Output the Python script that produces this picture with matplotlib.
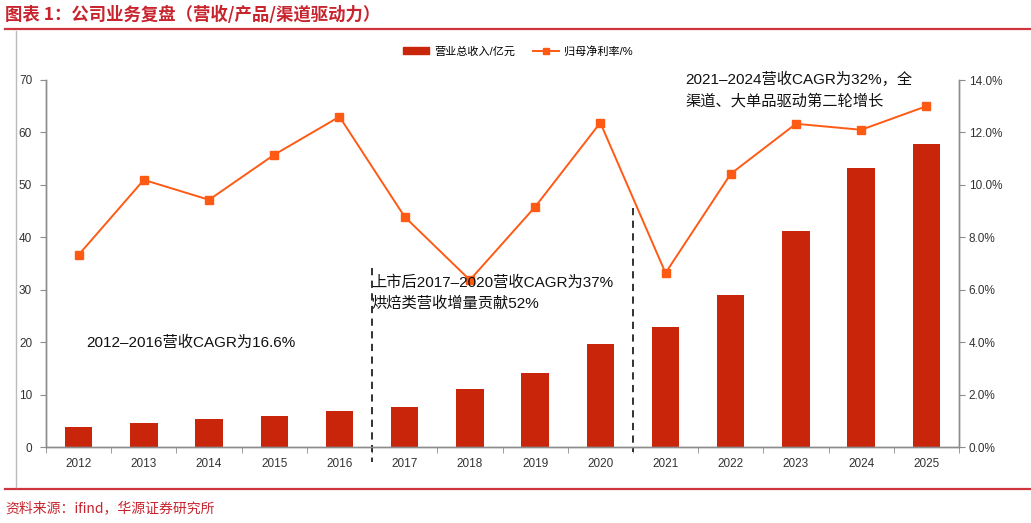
import numpy as np
import matplotlib
matplotlib.use('Agg')
import matplotlib.pyplot as plt
from matplotlib.patches import Patch
from matplotlib.lines import Line2D

# Datos del gráfico
years = ['2012', '2013', '2014', '2015', '2016', '2017', '2018',
         '2019', '2020', '2021', '2022', '2023', '2024', '2025']
revenue = [3.8, 4.6, 5.3, 5.9, 6.9, 7.6, 11.1,
           14.1, 19.7, 22.9, 29.0, 41.2, 53.2, 57.8]
net_margin = [7.33, 10.19, 9.43, 11.15, 12.6, 8.78, 6.37,
              9.16, 12.37, 6.64, 10.42, 12.33, 12.1, 13.0]

title = '图表 1：公司业务复盘（营收/产品/渠道驱动力）'
source = '资料来源：ifind，华源证券研究所'
label_bar = '营业总收入/亿元'
label_line = '归母净利率/%'
note_1 = '2012–2016营收CAGR为16.6%'
note_2 = '上市后2017–2020营收CAGR为37%\n烘焙类营收增量贡献52%'
note_3 = '2021–2024营收CAGR为32%，全\n渠道、大单品驱动第二轮增长'

plt.rcParams['font.family'] = ['Liberation Sans', 'Noto Sans CJK SC', 'DejaVu Sans']

bar_color = '#C8250B'
line_color = '#FF5A14'
red = '#C8242E'
gray = '#8C8C8C'

# Generamos la figura y los ejes
fig = plt.figure(figsize=(10.31, 5.23), dpi=100)
ax = fig.add_axes([46 / 1031, 76 / 523, 913 / 1031, 367 / 523])
ax2 = ax.twinx()

x = np.arange(len(years))

# Barras de ingresos
ax.bar(x, revenue, width=0.42, color=bar_color, zorder=2)
ax.set_ylim(0, 70)
ax.set_yticks(np.arange(0, 71, 10))
ax.set_xlim(-0.5, len(years) - 0.5)

# Línea del margen neto
ax2.plot(x, net_margin, color=line_color, lw=1.4, marker='s',
         markersize=6, zorder=3)
ax2.set_ylim(0, 14)
ax2.set_yticks(np.arange(0, 14.1, 2))
ax2.set_yticklabels(['{:.1f}%'.format(v) for v in np.arange(0, 14.1, 2)])

# Ejes x: etiquetas centradas, marcas entre categorías
ax.set_xticks(x)
ax.set_xticklabels(years)
ax.set_xticks(np.arange(-0.5, len(years)), minor=True)
ax.tick_params(axis='x', which='major', length=0, pad=8)
ax.tick_params(axis='x', which='minor', length=4, color=gray, direction='out')

for a in (ax, ax2):
    a.spines['top'].set_visible(False)
    for s in ('left', 'right', 'bottom'):
        a.spines[s].set_color(gray)
        a.spines[s].set_linewidth(1.0)
    a.tick_params(axis='y', length=4, color=gray, labelsize=8.5,
                  labelcolor='#333333')
    a.tick_params(axis='x', labelsize=8.5, labelcolor='#333333')
ax.tick_params(axis='y', pad=6)
ax2.tick_params(axis='y', pad=3)

# Líneas divisorias
ax2.plot([4.5, 4.5], [0.488, -0.041], transform=ax.get_xaxis_transform(),
         color='#222222', lw=1.3, ls=(0, (4, 3)), clip_on=False)
ax2.plot([8.5, 8.5], [0.651, -0.014], transform=ax.get_xaxis_transform(),
         color='#222222', lw=1.3, ls=(0, (4, 3)), clip_on=False)

# Anotaciones
ax2.text(0.11, 19.8, note_1, transform=ax.transData, fontsize=11,
         ha='left', va='center', color='#111111', zorder=5)
ax2.text(4.49, 29.3, note_2, transform=ax.transData, fontsize=11,
         ha='left', va='center', color='#111111', linespacing=1.6, zorder=5)
ax2.text(9.3, 68.0, note_3, transform=ax.transData, fontsize=11,
         ha='left', va='center', color='#111111', linespacing=1.6, zorder=5)

# Leyenda
handles = [Patch(color=bar_color),
           Line2D([], [], color=line_color, lw=1.4, marker='s', markersize=5)]
fig.legend(handles, [label_bar, label_line], loc='center',
           bbox_to_anchor=(0.502, 0.902), ncol=2, frameon=False,
           fontsize=8, handlelength=2.4, handleheight=0.6,
           handletextpad=0.4, columnspacing=1.6)

# Título, fuente y marco
fig.text(5 / 1031, 1 - 15 / 523, title, fontsize=12.5, color=red,
         fontweight='bold', ha='left', va='center',
         family=['Noto Sans CJK SC', 'DejaVu Sans'])
fig.text(5 / 1031, 1 - 508 / 523, source, fontsize=10, color=red,
         ha='left', va='center', family=['Noto Sans CJK SC', 'DejaVu Sans'])
fig.add_artist(Line2D([5 / 1031, 1], [1 - 29 / 523] * 2, color='#D0343C', lw=1.6))
fig.add_artist(Line2D([5 / 1031, 1], [1 - 489 / 523] * 2, color='#D0343C', lw=1.6))
fig.add_artist(Line2D([16 / 1031] * 2, [1 - 31 / 523, 1 - 487 / 523],
                      color='#BBBBBB', lw=1.0))

fig.savefig('out.png', dpi=100)
